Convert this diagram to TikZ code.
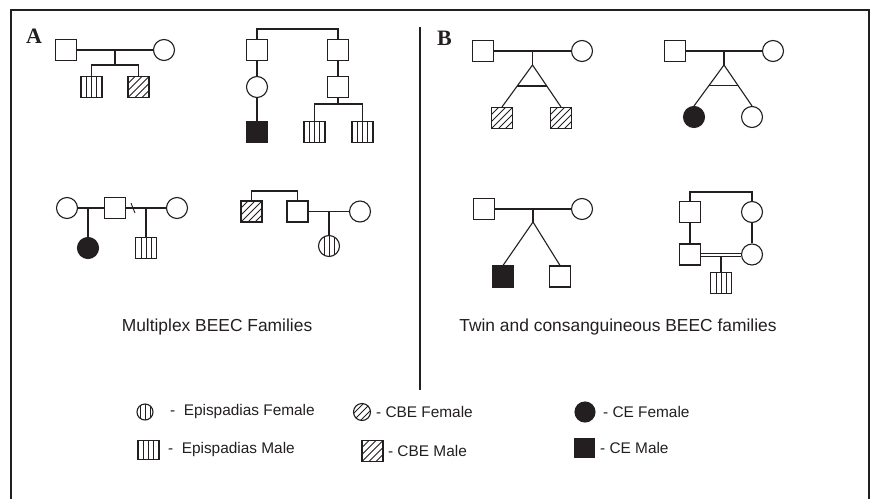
\documentclass[tikz,border=0pt]{standalone}
\usepackage{fontspec}
\setmainfont{Liberation Sans}
\newfontfamily\labelfont{Liberation Serif}
\usetikzlibrary{calc,positioning}
\definecolor{ink}{HTML}{231F20}

\begin{document}
\begin{tikzpicture}[x=1pt,y=-1pt,line width=1.1pt,color=ink]
  \tikzstyle{every node}=[inner sep=0pt,text=ink]
  \tikzstyle{male}=[rectangle,draw,fill=white,minimum size=21pt]
  \tikzstyle{female}=[circle,draw,fill=white,minimum size=21pt]
  \tikzstyle{affected}=[fill=ink]
  \tikzstyle{epi}=[path picture={\foreach \o in {-5,0,5}
      \draw[line width=.8pt] ([xshift=\o]path picture bounding box.north) -- ([xshift=\o]path picture bounding box.south);}]
  \tikzstyle{cbe}=[path picture={\foreach \o in {-14,-7,0,7,14}
      \draw[line width=.8pt] ([shift={({\o-12},12)}]path picture bounding box.center) -- ([shift={({\o+12},-12)}]path picture bounding box.center);}]
  \tikzstyle{famtitle}=[font=\fontsize{17.4}{20}\selectfont]
  \tikzstyle{keytext}=[font=\fontsize{15.4}{18}\selectfont]

  \useasboundingbox (0,0) rectangle (872,498);
  \draw (11,500) -- (11,10) -- (869,10) -- (869,500);
  \draw (420,27) -- (420,390);

  \node[font=\labelfont\bfseries\fontsize{22}{24}\selectfont] (la) at (34,36) {A};
  \node[font=\labelfont\bfseries\fontsize{22}{24}\selectfont] (lb) at (444.5,38) {B};

  % multiplex families
  \node[male]           (A) at (66,50)               {};
  \node[female]         (B) [right of=A,node distance=98pt] {};
  \node[male,epi]       (C) at (91.5,87)             {};
  \node[male,cbe]       (D) [right of=C,node distance=47pt] {};
  \coordinate (AB) at ($(A)!.5!(B)$);
  \coordinate (CD) at ($(AB)+(0,15)$);
  \draw (A) -- (B);
  \draw (AB) -- (CD);
  \draw (C) |- (CD) -| (D);

  \node[male]           (E) at (257,50)              {};
  \node[male]           (F) [right of=E,node distance=81pt] {};
  \node[female]         (G) [below of=E,node distance=37pt] {};
  \node[male,affected]  (H) [below of=G,node distance=45pt] {};
  \node[male]           (I) [below of=F,node distance=37pt] {};
  \node[male,epi]       (J) at (314.5,132)           {};
  \node[male,epi]       (K) [right of=J,node distance=48pt] {};
  \coordinate (EF) at ($(E)!.5!(F)+(0,-21)$);
  \coordinate (JK) at ($(I)+(0,17)$);
  \draw (E) |- (EF) -| (F);
  \draw (E) -- (G) -- (H);
  \draw (F) -- (I) -- (JK);
  \draw (J) |- (JK) -| (K);

  \node[female]         (L) at (67,208)              {};
  \node[male]           (M) [right of=L,node distance=48pt] {};
  \node[female]         (N) [right of=M,node distance=62pt] {};
  \node[female,affected] (O) at (88,248)             {};
  \node[male,epi]       (P) at (146,248)             {};
  \draw (L) -- (M) -- (N);
  \draw[line width=.9pt] ($(M)!.29!(N)$) +(-2,-5) -- +(2,5);
  \draw (O) -- (O |- L);
  \draw (P) -- (P |- N);

  \node[male,cbe]       (Q) at (251.5,211.5)         {};
  \node[male]           (R) [right of=Q,node distance=46pt] {};
  \node[female]         (S) [right of=R,node distance=62.5pt] {};
  \node[female,epi]     (T) at (329,246)             {};
  \coordinate (QR) at ($(Q)!.5!(R)+(0,-20.5)$);
  \draw (Q) |- (QR) -| (R);
  \draw (R) -- (S);
  \draw (T) -- (T |- S);

  % twin and consanguineous families
  \node[male]           (U) at (483,51)              {};
  \node[female]         (V) [right of=U,node distance=99pt] {};
  \node[male,cbe]       (W) at (502,118)             {};
  \node[male,cbe]       (X) [right of=W,node distance=59pt] {};
  \coordinate (UV) at ($(U)!.5!(V)$);
  \coordinate (WX) at ($(UV)+(0,14)$);
  \draw (U) -- (V);
  \draw (UV) -- (WX);
  \draw (W.north) -- (WX) -- (X.north);
  \draw ($(WX)!.5!(W.north)$) -- ($(WX)!.5!(X.north)$);

  \node[male]           (Y) at (675,51)              {};
  \node[female]         (Z) [right of=Y,node distance=98pt] {};
  \node[female,affected] (Y1) at (694,117)           {};
  \node[female]         (Z1) [right of=Y1,node distance=58pt] {};
  \coordinate (YZ) at ($(Y)!.5!(Z)$);
  \coordinate (YZ1) at ($(YZ)+(0,14)$);
  \draw (Y) -- (Z);
  \draw (YZ) -- (YZ1);
  \draw (Y1.north) -- (YZ1) -- (Z1.north);
  \draw ($(YZ1)!.5!(Y1.north)$) -- ($(YZ1)!.5!(Z1.north)$);

  \node[male]           (U2) at (484,209)            {};
  \node[female]         (V2) [right of=U2,node distance=98pt] {};
  \node[male,affected]  (W2) at (503,276.5)          {};
  \node[male]           (X2) [right of=W2,node distance=57pt] {};
  \coordinate (UV2) at ($(U2)!.5!(V2)$);
  \coordinate (WX2) at ($(UV2)+(0,13)$);
  \draw (U2) -- (V2);
  \draw (UV2) -- (WX2);
  \draw (W2.north) -- (WX2) -- (X2.north);

  \node[male]           (Y3) at (690,212)            {};
  \node[female]         (Z3) [right of=Y3,node distance=62pt] {};
  \node[male]           (Y4) [below of=Y3,node distance=42.5pt] {};
  \node[female]         (Z4) [below of=Z3,node distance=42.5pt] {};
  \node[male,epi]       (C4) at (721,283)            {};
  \coordinate (YZ3) at ($(Y3)!.5!(Z3)+(0,-20)$);
  \draw (Y3) |- (YZ3) -| (Z3);
  \draw (Y3) -- (Y4);
  \draw (Z3) -- (Z4);
  \draw (C4) -- (C4 |- Y4);
  \draw[line width=1pt,double=white,double distance=2pt] (Y4) -- (Z4);

  \node[famtitle] (MT) at (217,327) {Multiplex BEEC Families};
  \node[famtitle] (TT) at (618,327) {Twin and consanguineous BEEC families};

  % key
  \node[female,epi,minimum size=16pt]      (K1) at (145,412)   {};
  \node[keytext,right=16pt of K1]          (T1) {-\ \ Epispadias Female};
  \node[female,cbe,minimum size=17pt]      (K2) at (362,412)   {};
  \node[keytext,right=4.5pt of K2]         (T2) {- CBE Female};
  \node[female,affected,minimum size=20pt] (K3) at (585,412)   {};
  \node[keytext,right=7pt of K3]           (T3) {- CE Female};
  \node[male,epi,minimum height=19pt]      (K4) at (148.5,450) {};
  \node[keytext,right=8pt of K4]           (T4) {-\ \ Epispadias Male};
  \node[male,cbe]                          (K5) at (372.5,451) {};
  \node[keytext,right=4pt of K5]           (T5) {- CBE Male};
  \node[male,affected,minimum size=19pt]   (K6) at (584.5,448) {};
  \node[keytext,right=5pt of K6]           (T6) {- CE Male};
\end{tikzpicture}
\end{document}
